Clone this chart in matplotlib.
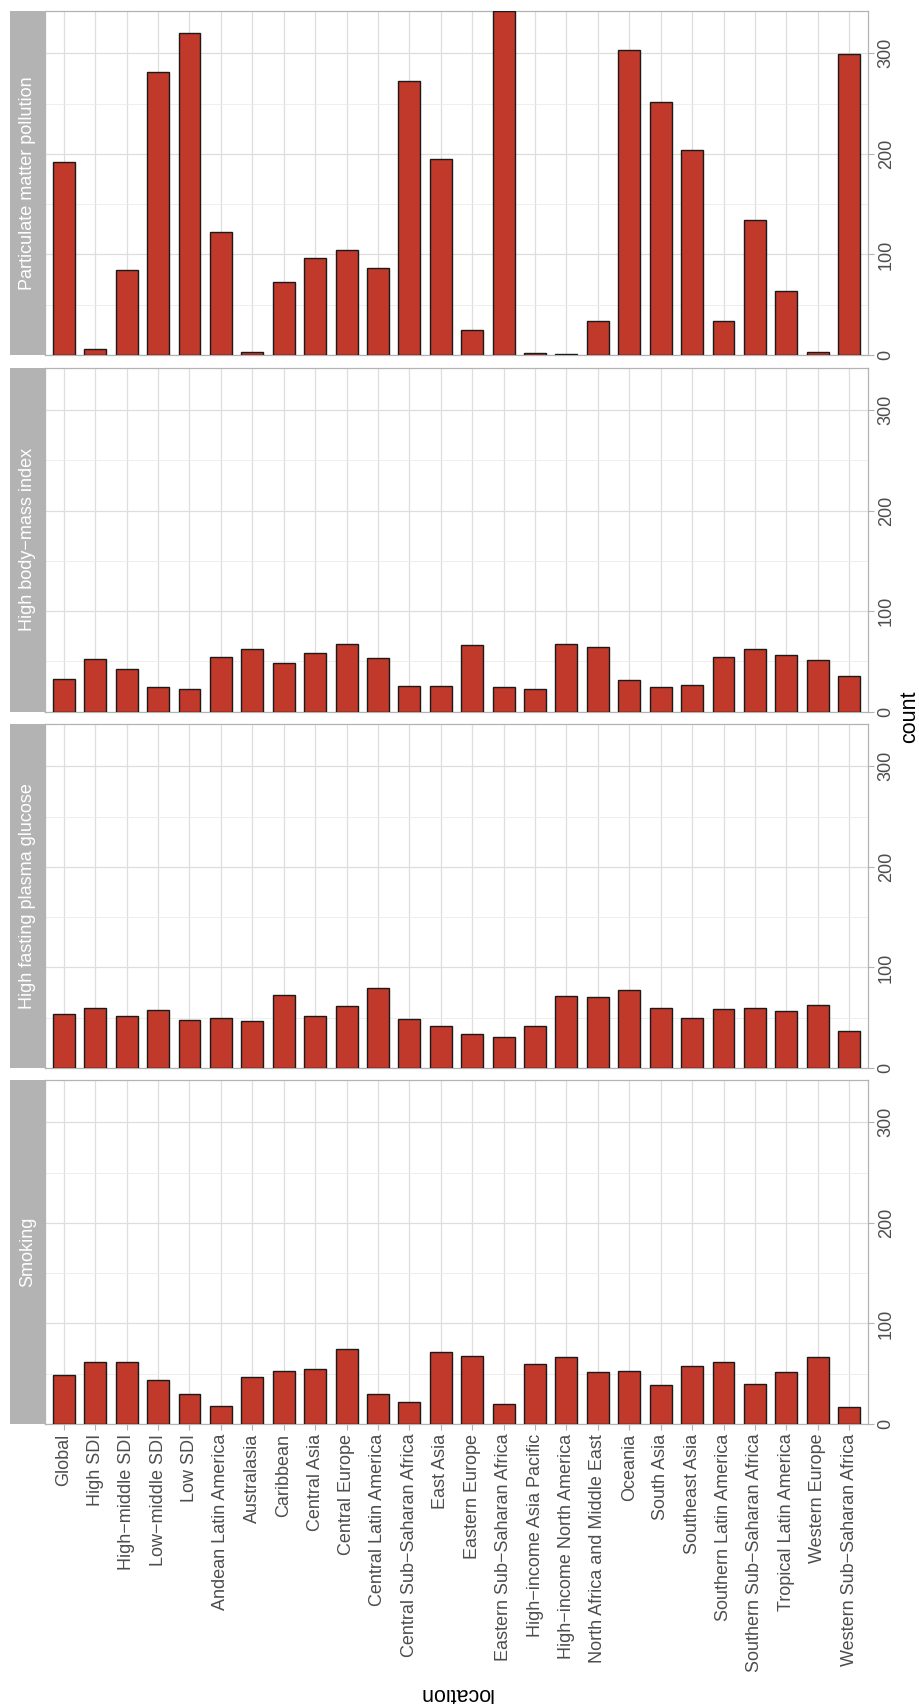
import matplotlib
matplotlib.use("Agg")
import matplotlib.pyplot as plt
from matplotlib.ticker import MultipleLocator
import numpy as np

plt.rcParams['font.family'] = ['Liberation Sans', 'DejaVu Sans']

locations = ["Global", "High SDI", "High\u2212middle SDI", "Low\u2212middle SDI", "Low SDI",
             "Andean Latin America", "Australasia", "Caribbean", "Central Asia",
             "Central Europe", "Central Latin America", "Central Sub\u2212Saharan Africa",
             "East Asia", "Eastern Europe", "Eastern Sub\u2212Saharan Africa",
             "High\u2212income Asia Pacific", "High\u2212income North America",
             "North Africa and Middle East", "Oceania", "South Asia", "Southeast Asia",
             "Southern Latin America", "Southern Sub\u2212Saharan Africa",
             "Tropical Latin America", "Western Europe", "Western Sub\u2212Saharan Africa"]

particulate = [192, 6, 85, 281, 320, 122, 3, 73, 96, 104, 86, 272, 195,
               25, 342, 2, 1, 34, 303, 252, 204, 34, 134, 64, 3, 299]
bmi = [32, 52, 42, 24, 22, 54, 62, 48, 58, 67, 53, 25, 25,
       66, 24, 22, 67, 64, 31, 24, 26, 54, 62, 56, 51, 35]
glucose = [54, 60, 52, 58, 48, 50, 47, 73, 52, 62, 80, 49, 42,
           34, 31, 42, 72, 71, 78, 60, 50, 59, 60, 57, 63, 37]
smoking = [49, 62, 62, 44, 30, 18, 47, 53, 55, 75, 30, 22, 72,
           68, 20, 60, 67, 52, 53, 39, 58, 62, 40, 52, 67, 17]

risks = ["Particulate matter pollution", "High body\u2212mass index",
         "High fasting plasma glucose", "Smoking"]
series = [particulate, bmi, glucose, smoking]

W, H = 919, 1704
fig = plt.figure(figsize=(W / 100, H / 100), dpi=100)

# panel extents in pixels (top, bottom)
rows = [(11, 355), (368, 711.5), (724, 1068), (1080, 1424)]
left, right = 45, 868
strip_left = 10

ymax = max(max(s) for s in series)
x = np.arange(len(locations))

for i, (risk, vals) in enumerate(zip(risks, series)):
    top, bot = rows[i]
    ax = fig.add_axes([left / W, 1 - bot / H, (right - left) / W, (bot - top) / H])
    ax.bar(x, vals, width=0.7, color="#C0392B", edgecolor="#1a1a1a", linewidth=1.0, zorder=3)
    ax.set_xlim(-0.6, len(locations) - 0.4)
    ax.set_ylim(0, ymax)
    ax.yaxis.set_major_locator(MultipleLocator(100))
    ax.yaxis.set_minor_locator(MultipleLocator(50))
    ax.grid(True, which="major", color="#DEDEDE", linewidth=0.9, zorder=0)
    ax.grid(True, which="minor", axis="y", color="#EBEBEB", linewidth=0.6, zorder=0)
    for sp in ax.spines.values():
        sp.set_color("#B3B3B3")
        sp.set_linewidth(0.9)
    ax.yaxis.tick_right()
    ax.tick_params(axis="y", which="major", direction="out", length=4, width=0.8,
                   color="#B3B3B3", labelcolor="#4D4D4D", labelsize=13, pad=3,
                   labelrotation=90)
    ax.tick_params(axis="y", which="minor", length=0)
    for lab in ax.get_yticklabels():
        lab.set_va("center")
    ax.set_xticks(x)
    if i == len(risks) - 1:
        ax.set_xticklabels(locations, rotation=90, ha="center", va="top")
        ax.tick_params(axis="x", direction="out", length=4, width=0.8,
                       color="#B3B3B3", labelcolor="#4D4D4D", labelsize=13, pad=3)
    else:
        ax.set_xticklabels([])
        ax.tick_params(axis="x", length=0)

    # facet strip on the left
    sax = fig.add_axes([strip_left / W, 1 - bot / H, (left - strip_left) / W, (bot - top) / H])
    sax.set_facecolor("#B3B3B3")
    sax.set_xticks([])
    sax.set_yticks([])
    for sp in sax.spines.values():
        sp.set_visible(False)
    sax.text(0.5, 0.5, risk, rotation=90, ha="center", va="center",
             color="white", fontsize=13, transform=sax.transAxes)

fig.text(910 / W, 1 - 717 / H, "count", rotation=90, ha="center", va="center", fontsize=15.5)
fig.text(456 / W, 1 - 1694 / H, "location", rotation=180, ha="center", va="center", fontsize=15.5)

fig.savefig("out.png", dpi=100)
